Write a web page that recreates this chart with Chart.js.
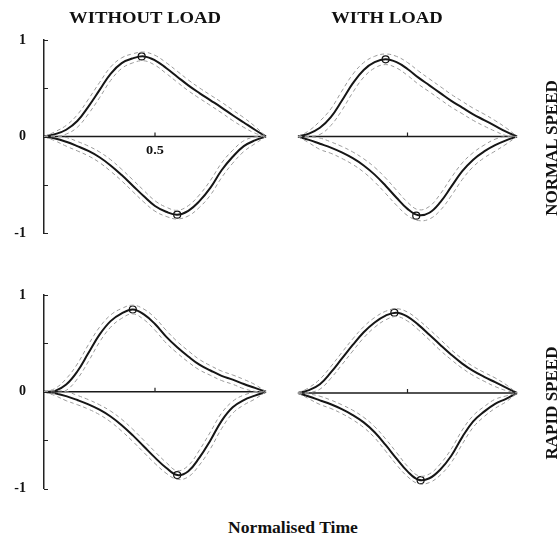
<!DOCTYPE html>
<html>
<head>
<meta charset="utf-8">
<script src="https://cdn.jsdelivr.net/npm/chart.js@4/dist/chart.umd.min.js"></script>
<style>
  html, body { margin: 0; padding: 0; background: #fff; }
  #wrap { position: relative; width: 557px; height: 538px; overflow: hidden; font-family: "Liberation Serif", "DejaVu Serif", serif; color: #111; }
  canvas { position: absolute; }
  .lbl { position: absolute; font-weight: bold; white-space: nowrap; transform: translate(-50%, -50%) scaleX(1.1); }
  .row { position: absolute; font-weight: bold; white-space: nowrap; font-size: 17px; transform: translate(-50%, -50%) rotate(-90deg); }
</style>
</head>
<body>
<div id="wrap">
  <canvas id="c1" width="278" height="260" style="left:0;top:0"></canvas>
  <canvas id="c2" width="259" height="260" style="left:270px;top:0"></canvas>
  <canvas id="c3" width="278" height="260" style="left:0;top:255px"></canvas>
  <canvas id="c4" width="259" height="260" style="left:270px;top:255px"></canvas>

  <div class="lbl" style="left:145px;top:18px;font-size:17px">WITHOUT LOAD</div>
  <div class="lbl" style="left:387px;top:18px;font-size:17px">WITH LOAD</div>
  <div class="row" style="left:552px;top:148px">NORMAL SPEED</div>
  <div class="row" style="left:552px;top:403px">RAPID SPEED</div>
  <div class="lbl" style="left:293px;top:528px;font-size:16px">Normalised Time</div>
  <div class="lbl" style="left:155px;top:150px;font-size:13px">0.5</div>
</div>

<script>
const timeGrid = [0, 0.05, 0.1, 0.15, 0.2, 0.25, 0.3, 0.35, 0.4, 0.45, 0.5, 0.55, 0.6, 0.65, 0.7, 0.75, 0.8, 0.85, 0.9, 0.95, 1];
const yTicks = [-1, -0.5, 0, 0.5, 1];

// normal speed, without load
const normalFreeUp = [0, 0.025, 0.07, 0.16, 0.31, 0.48, 0.65, 0.76, 0.81, 0.83, 0.79, 0.71, 0.62, 0.53, 0.45, 0.375, 0.30, 0.22, 0.145, 0.07, 0];
const normalFreeUpSd = [0, 0.025, 0.045, 0.065, 0.076, 0.079, 0.07, 0.055, 0.047, 0.045, 0.051, 0.056, 0.057, 0.056, 0.054, 0.054, 0.055, 0.055, 0.05, 0.035, 0];
const normalFreeDown = [0, -0.02, -0.055, -0.10, -0.15, -0.215, -0.30, -0.40, -0.51, -0.62, -0.72, -0.78, -0.81, -0.77, -0.67, -0.53, -0.35, -0.21, -0.10, -0.04, 0];
const normalFreeDownSd = [0, 0.025, 0.045, 0.049, 0.051, 0.055, 0.06, 0.06, 0.061, 0.06, 0.054, 0.048, 0.045, 0.053, 0.065, 0.076, 0.076, 0.067, 0.056, 0.035, 0];
const normalFreePeakT = [0.44, 0.60];
const normalFreePeakV = [0.83, -0.81];

// normal speed, with load
const normalLoadUp = [0, 0.03, 0.09, 0.20, 0.37, 0.55, 0.69, 0.77, 0.80, 0.77, 0.70, 0.61, 0.53, 0.45, 0.37, 0.30, 0.23, 0.17, 0.11, 0.05, 0];
const normalLoadUpSd = [0, 0.03, 0.069, 0.086, 0.1, 0.094, 0.076, 0.061, 0.055, 0.06, 0.067, 0.069, 0.067, 0.067, 0.066, 0.064, 0.063, 0.062, 0.055, 0.04, 0];
const normalLoadDown = [0, -0.035, -0.075, -0.115, -0.165, -0.225, -0.30, -0.395, -0.51, -0.635, -0.75, -0.815, -0.79, -0.68, -0.52, -0.36, -0.24, -0.155, -0.09, -0.04, 0];
const normalLoadDownSd = [0, 0.03, 0.059, 0.059, 0.062, 0.065, 0.069, 0.076, 0.08, 0.078, 0.069, 0.056, 0.065, 0.085, 0.094, 0.086, 0.073, 0.066, 0.062, 0.04, 0];
const normalLoadPeakT = [0.40, 0.54];
const normalLoadPeakV = [0.80, -0.82];

// rapid speed, without load
const rapidFreeUp = [0, 0.01, 0.075, 0.21, 0.40, 0.59, 0.73, 0.81, 0.85, 0.80, 0.70, 0.57, 0.46, 0.365, 0.28, 0.22, 0.165, 0.126, 0.08, 0.04, 0];
const rapidFreeUpSd = [0, 0.025, 0.06, 0.077, 0.087, 0.077, 0.063, 0.051, 0.045, 0.054, 0.064, 0.066, 0.06, 0.058, 0.054, 0.05, 0.049, 0.048, 0.048, 0.035, 0];
const rapidFreeDown = [0, -0.015, -0.045, -0.085, -0.13, -0.185, -0.255, -0.345, -0.45, -0.565, -0.68, -0.785, -0.86, -0.82, -0.68, -0.50, -0.30, -0.16, -0.085, -0.04, 0];
const rapidFreeDownSd = [0, 0.025, 0.047, 0.048, 0.049, 0.051, 0.056, 0.061, 0.063, 0.063, 0.061, 0.056, 0.045, 0.058, 0.077, 0.087, 0.08, 0.062, 0.051, 0.035, 0];
const rapidFreePeakT = [0.40, 0.60];
const rapidFreePeakV = [0.85, -0.86];

// rapid speed, with load
const rapidLoadUp = [0, 0.03, 0.09, 0.21, 0.35, 0.49, 0.62, 0.72, 0.79, 0.82, 0.78, 0.695, 0.595, 0.49, 0.39, 0.30, 0.225, 0.165, 0.11, 0.055, 0];
const rapidLoadUpSd = [0, 0.025, 0.051, 0.06, 0.063, 0.062, 0.057, 0.05, 0.044, 0.04, 0.046, 0.051, 0.054, 0.056, 0.051, 0.048, 0.046, 0.045, 0.044, 0.03, 0];
const rapidLoadDown = [0, -0.035, -0.075, -0.115, -0.165, -0.225, -0.30, -0.40, -0.53, -0.67, -0.80, -0.885, -0.87, -0.78, -0.64, -0.45, -0.29, -0.19, -0.11, -0.06, 0];
const rapidLoadDownSd = [0, 0.025, 0.042, 0.043, 0.045, 0.049, 0.052, 0.057, 0.062, 0.063, 0.053, 0.041, 0.044, 0.057, 0.069, 0.072, 0.06, 0.051, 0.046, 0.03, 0];
const rapidLoadPeakT = [0.44, 0.56];
const rapidLoadPeakV = [0.82, -0.89];

const SERIF = '"Liberation Serif", "DejaVu Serif", serif';

function pts(ts, vs) {
  return ts.map((t, i) => ({ x: t, y: vs[i] }));
}

// mean +/- sd, for the dashed envelopes
function band(vs, sd, sign) {
  return timeGrid.map((t, i) => ({ x: t, y: vs[i] + sign * sd[i] }));
}

function dashed(data) {
  return {
    data, borderColor: "#9c9c9c", borderWidth: 1, borderDash: [4, 3],
    pointRadius: 0, tension: 0.4, clip: false
  };
}

function solid(data) {
  return {
    data, borderColor: "#161616", borderWidth: 2,
    pointRadius: 0, tension: 0.4, clip: false
  };
}

// inward y ticks and the small mark at t = 0.5 on the zero line
const axisMarks = {
  id: "axisMarks",
  afterDatasetsDraw(chart, args, opts) {
    const { ctx, scales } = chart;
    const x = scales.x, y = scales.y;
    ctx.save();
    ctx.strokeStyle = "#222";
    ctx.lineWidth = 1.2;
    ctx.beginPath();
    if (opts.yAxis) {
      yTicks.forEach((v) => {
        const py = Math.round(y.getPixelForValue(v)) + 0.5;
        ctx.moveTo(x.getPixelForValue(0), py);
        ctx.lineTo(x.getPixelForValue(0) + 4, py);
      });
    }
    const mx = x.getPixelForValue(0.5);
    const my = y.getPixelForValue(0);
    ctx.moveTo(mx, my);
    ctx.lineTo(mx, my - 4);
    ctx.stroke();
    ctx.restore();
  }
};

function makePanel(id, up, upSd, down, downSd, peakT, peakV, withAxis, padding) {
  return new Chart(document.getElementById(id), {
    type: "line",
    data: {
      datasets: [
        dashed(band(up, upSd, 1)),
        dashed(band(up, upSd, -1)),
        dashed(band(down, downSd, 1)),
        dashed(band(down, downSd, -1)),
        solid(pts(timeGrid, up)),
        solid(pts(timeGrid, down)),
        {
          data: pts([0, 1], [0, 0]), borderColor: "#1a1a1a", borderWidth: 1.6,
          pointRadius: 0, clip: false
        },
        {
          data: pts(peakT, peakV), showLine: false, pointRadius: 3.5,
          pointBackgroundColor: "#fff", pointBorderColor: "#111", pointBorderWidth: 1.2, clip: false
        }
      ]
    },
    options: {
      responsive: false,
      animation: false,
      layout: { padding },
      plugins: {
        legend: { display: false },
        tooltip: { enabled: false },
        axisMarks: { yAxis: withAxis }
      },
      scales: {
        x: { type: "linear", min: 0, max: 1, display: false },
        y: {
          type: "linear", min: -1, max: 1, display: withAxis, position: "left",
          afterFit: (s) => { s.width = withAxis ? 44 : 0; },
          afterBuildTicks: (s) => { s.ticks = yTicks.map((v) => ({ value: v })); },
          ticks: {
            padding: 18, color: "#111",
            font: { family: SERIF, weight: "bold", size: 14 },
            callback: (v) => (v === 1 || v === 0 || v === -1 ? String(v) : "")
          },
          grid: { drawOnChartArea: false, drawTicks: false },
          border: { display: true, color: "#222", width: 1.5 }
        }
      }
    },
    plugins: [axisMarks]
  });
}

makePanel("c1", normalFreeUp, normalFreeUpSd, normalFreeDown, normalFreeDownSd, normalFreePeakT, normalFreePeakV, true,
  { top: 40, bottom: 27, left: 0, right: 12 });
makePanel("c2", normalLoadUp, normalLoadUpSd, normalLoadDown, normalLoadDownSd, normalLoadPeakT, normalLoadPeakV, false,
  { top: 40, bottom: 27, left: 28, right: 12 });
makePanel("c3", rapidFreeUp, rapidFreeUpSd, rapidFreeDown, rapidFreeDownSd, rapidFreePeakT, rapidFreePeakV, true,
  { top: 40, bottom: 24, left: 0, right: 12 });
makePanel("c4", rapidLoadUp, rapidLoadUpSd, rapidLoadDown, rapidLoadDownSd, rapidLoadPeakT, rapidLoadPeakV, false,
  { top: 40, bottom: 24, left: 28, right: 12 });
</script>
</body>
</html>
